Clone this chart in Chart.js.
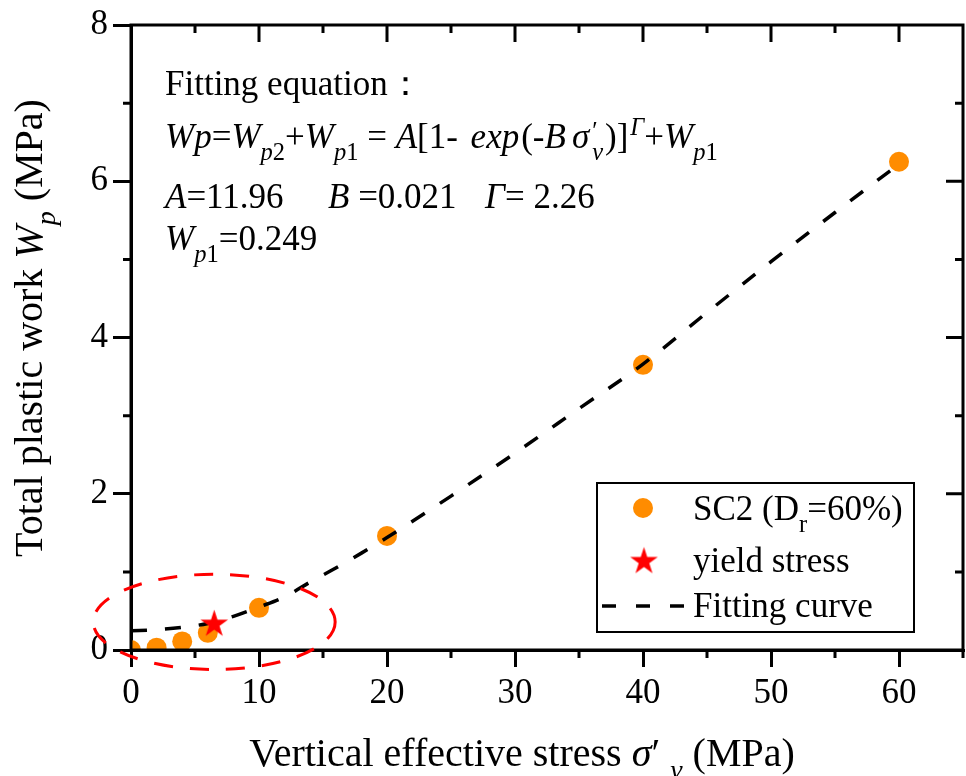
<!DOCTYPE html>
<html><head><meta charset="utf-8">
<script src="https://cdn.jsdelivr.net/npm/chart.js@4.4.1/dist/chart.umd.min.js"></script>
<style>html,body{margin:0;padding:0;background:#fff;overflow:hidden;}canvas{display:block;}</style>
</head><body><canvas id="c" width="966" height="776"></canvas>
<script>
// ---- data ----
const xTicks = [0, 10, 20, 30, 40, 50, 60];
const xMinorTicks = [5, 15, 25, 35, 45, 55, 65];
const yTicks = [0, 2, 4, 6, 8];
const yMinorTicks = [1, 3, 5, 7];
const stressX = [0, 2, 4, 6, 10, 20, 40, 60];
const workY = [0, 0.03, 0.11, 0.22, 0.54, 1.46, 3.65, 6.25];
const yieldX = [6.5];
const yieldY = [0.35];
const fitX = [0, 2, 4, 6, 8, 10, 12, 14, 16, 18, 20, 25, 30, 35, 40, 45, 50, 55, 60];
const fitY = [0.245, 0.26, 0.29, 0.34, 0.43, 0.55, 0.68, 0.87, 1.05, 1.24, 1.44, 1.97, 2.52, 3.09, 3.66, 4.32, 4.97, 5.6, 6.22];
const ellipseCenter = [6.5, 0.36];
const ellipseRadii = [9.45, 0.61];

const F = '"Liberation Serif","Times New Roman",serif';
const FS = 35;
const FT = 40;
Chart.defaults.font.family = F;

function makeStar(R, color) {
  const s = Math.ceil(2 * R + 2);
  const c = document.createElement('canvas');
  c.width = s; c.height = s;
  const g = c.getContext('2d');
  g.beginPath();
  for (let i = 0; i < 10; i++) {
    const a = -Math.PI / 2 + i * Math.PI / 5;
    const rr = i % 2 ? R * 0.382 : R;
    g.lineTo(s / 2 + rr * Math.cos(a), s / 2 + R * 0.1 + rr * Math.sin(a));
  }
  g.closePath();
  g.fillStyle = color; g.fill();
  return c;
}
const starImg = makeStar(14.5, '#ff0000');

function fontOf(seg, size) {
  const sz = (seg.sub || seg.sup) ? size * 0.7 : size;
  return (seg.i ? 'italic ' : '') + sz + 'px ' + F;
}
function richWidth(ctx, segs, size) {
  let w = 0;
  for (const s of segs) { ctx.font = fontOf(s, size); if (!s.noAdv) w += ctx.measureText(s.t).width + (s.dx || 0); }
  return w;
}
function drawRich(ctx, x, y, segs, size, align) {
  ctx.save();
  ctx.textBaseline = 'alphabetic';
  ctx.textAlign = 'left';
  ctx.fillStyle = '#000';
  if (align === 'center') x -= richWidth(ctx, segs, size) / 2;
  for (const s of segs) {
    ctx.font = fontOf(s, size);
    let dy = 0;
    if (s.sub) dy = size * 0.33;
    if (s.sup) dy = -size * 0.36;
    ctx.fillText(s.t, x + (s.dx || 0), y + dy + (s.dy || 0));
    if (!s.noAdv) x += ctx.measureText(s.t).width + (s.dx || 0);
  }
  ctx.restore();
}

const framePlugin = {
  id: 'frame',
  afterDatasetsDraw(chart) {
    const ctx = chart.ctx;
    const { left, right, top, bottom } = chart.chartArea;
    const xs = chart.scales.x, ys = chart.scales.y;
    ctx.save();
    ctx.strokeStyle = '#000';
    ctx.lineWidth = 3;
    ctx.lineCap = 'butt';
    ctx.beginPath();
    ctx.moveTo(left, top); ctx.lineTo(right, top);
    ctx.moveTo(right, top - 1.5); ctx.lineTo(right, bottom + 1.5);
    ctx.moveTo(left, top - 1.5); ctx.lineTo(left, bottom);
    ctx.moveTo(left, bottom); ctx.lineTo(right, bottom);
    for (const v of xTicks) { const x = xs.getPixelForValue(v); ctx.moveTo(x, top); ctx.lineTo(x, top + 17); }
    for (const v of xMinorTicks) { const x = xs.getPixelForValue(v); ctx.moveTo(x, top); ctx.lineTo(x, top + 8); }
    for (const v of xMinorTicks) { const x = xs.getPixelForValue(v); ctx.moveTo(x, bottom); ctx.lineTo(x, bottom + 8); }
    for (const v of yTicks) { const y = ys.getPixelForValue(v); ctx.moveTo(right, y); ctx.lineTo(right - 17, y); }
    for (const v of yMinorTicks) { const y = ys.getPixelForValue(v); ctx.moveTo(right, y); ctx.lineTo(right - 8, y); }
    for (const v of yMinorTicks) { const y = ys.getPixelForValue(v); ctx.moveTo(left, y); ctx.lineTo(left - 8, y); }
    ctx.stroke();
    ctx.restore();
  },
  afterDraw(chart) {
    const ctx = chart.ctx;
    const xs = chart.scales.x, ys = chart.scales.y;
    const cx = xs.getPixelForValue(ellipseCenter[0]);
    const cy = ys.getPixelForValue(ellipseCenter[1]);
    const rx = xs.getPixelForValue(ellipseCenter[0] + ellipseRadii[0]) - cx;
    const ry = cy - ys.getPixelForValue(ellipseCenter[1] + ellipseRadii[1]);
    ctx.save();
    ctx.strokeStyle = '#ff0000';
    ctx.lineWidth = 3;
    ctx.setLineDash([19, 17]);
    ctx.beginPath();
    ctx.ellipse(cx, cy, rx, ry, 0, 0, Math.PI * 2);
    ctx.stroke();
    ctx.restore();

    drawRich(ctx, 165, 95, [{ t: 'Fitting equation：' }], FS);
    drawRich(ctx, 165, 148, [
      { t: 'W', i: 1 }, { t: 'p', i: 1 }, { t: '=' }, { t: 'W', i: 1 }, { t: 'p', i: 1, sub: 1 }, { t: '2', sub: 1 },
      { t: '+' }, { t: 'W', i: 1 }, { t: 'p', i: 1, sub: 1 }, { t: '1', sub: 1 }, { t: ' = ' }, { t: 'A', i: 1 },
      { t: '[1- ' }, { t: 'exp', i: 1, dx: 4 }, { t: '(-', dx: 2 }, { t: 'B', i: 1 }, { t: 'σ', i: 1, dx: 6 },
      { t: '′', sup: 1, noAdv: 1, dx: 3, dy: 4 }, { t: 'ν', i: 1, sub: 1, dx: 3 }, { t: ')]', dx: 2 }, { t: 'Γ', i: 1, sup: 1, dx: 2 },
      { t: '+' }, { t: 'W', i: 1 }, { t: 'p', i: 1, sub: 1 }, { t: '1', sub: 1 }
    ], FS);
    drawRich(ctx, 165, 208, [{ t: 'A', i: 1 }, { t: '=11.96' }], FS);
    drawRich(ctx, 328, 208, [{ t: 'B', i: 1 }, { t: ' =0.021' }], FS);
    drawRich(ctx, 485, 208, [{ t: 'Γ', i: 1 }, { t: '= 2.26' }], FS);
    drawRich(ctx, 165, 250, [{ t: 'W', i: 1 }, { t: 'p', i: 1, sub: 1 }, { t: '1', sub: 1 }, { t: '=0.249' }], FS);

    drawRich(ctx, 522, 766, [
      { t: 'Vertical effective stress ' }, { t: 'σ', i: 1 }, { t: '′ ' }, { t: 'ν', i: 1, sub: 1 }, { t: ' (MPa)' }
    ], FT, 'center');
    ctx.save();
    ctx.translate(42, 328);
    ctx.rotate(-Math.PI / 2);
    drawRich(ctx, 0, 0, [
      { t: 'Total plastic work ' }, { t: 'W', i: 1 }, { t: 'p', i: 1, sub: 1 }, { t: ' (MPa)' }
    ], FT, 'center');
    ctx.restore();

    ctx.save();
    ctx.strokeStyle = '#000';
    ctx.lineWidth = 2;
    ctx.strokeRect(597, 483, 317, 149);
    ctx.fillStyle = '#ff8c00';
    ctx.beginPath(); ctx.arc(643, 508, 10, 0, Math.PI * 2); ctx.fill();
    ctx.drawImage(starImg, 644 - starImg.width / 2, 560 - starImg.height / 2);
    ctx.strokeStyle = '#000';
    ctx.lineWidth = 3.5;
    ctx.setLineDash([14, 20]);
    ctx.beginPath(); ctx.moveTo(602, 606); ctx.lineTo(686, 606); ctx.stroke();
    ctx.restore();
    drawRich(ctx, 693, 520, [{ t: 'SC2 (D' }, { t: 'r', sub: 1 }, { t: '=60%)' }], FS);
    drawRich(ctx, 693, 572, [{ t: 'yield stress' }], FS);
    drawRich(ctx, 693, 617, [{ t: 'Fitting curve' }], FS);
  }
};

new Chart(document.getElementById('c'), {
  type: 'scatter',
  data: {
    datasets: [
      {
        label: 'SC2 (Dr=60%)',
        data: stressX.map((x, i) => ({ x, y: workY[i] })),
        pointRadius: 10, pointHoverRadius: 10,
        pointBackgroundColor: '#ff8c00', pointBorderWidth: 0,
        clip: 0, order: 3
      },
      {
        type: 'line',
        label: 'Fitting curve',
        data: fitX.map((x, i) => ({ x, y: fitY[i] })),
        borderColor: '#000', borderWidth: 3.5, borderDash: [16, 18],
        pointRadius: 0, fill: false, cubicInterpolationMode: 'monotone',
        order: 2
      },
      {
        label: 'yield stress',
        data: yieldX.map((x, i) => ({ x, y: yieldY[i] })),
        pointStyle: starImg, pointRadius: 14, pointBorderWidth: 0,
        clip: false, order: 1
      }
    ]
  },
  options: {
    animation: false,
    responsive: false,
    maintainAspectRatio: false,
    devicePixelRatio: 1,
    events: [],
    layout: { autoPadding: false, padding: { top: 25, right: 3, left: 0, bottom: 0 } },
    plugins: { legend: { display: false }, tooltip: { enabled: false } },
    scales: {
      x: {
        type: 'linear', min: 0, max: 65,
        afterBuildTicks: s => { s.ticks = xTicks.map(v => ({ value: v })); },
        afterFit: s => { s.height = 126; s.paddingLeft = 0; s.paddingRight = 0; },
        grid: { drawOnChartArea: false, tickLength: 17, color: '#000', lineWidth: 3 },
        border: { color: '#000', width: 3 },
        ticks: { font: { size: FS, family: F }, color: '#000', padding: 6, maxRotation: 0, autoSkip: false }
      },
      y: {
        type: 'linear', min: 0, max: 8,
        afterBuildTicks: s => { s.ticks = yTicks.map(v => ({ value: v })); },
        afterFit: s => { s.width = 131; s.paddingTop = 0; s.paddingBottom = 0; },
        grid: { drawOnChartArea: false, tickLength: 18, color: '#000', lineWidth: 3 },
        border: { color: '#000', width: 3 },
        ticks: { font: { size: FS, family: F }, color: '#000', padding: 5, autoSkip: false }
      }
    }
  },
  plugins: [framePlugin]
});
</script>
</body></html>
